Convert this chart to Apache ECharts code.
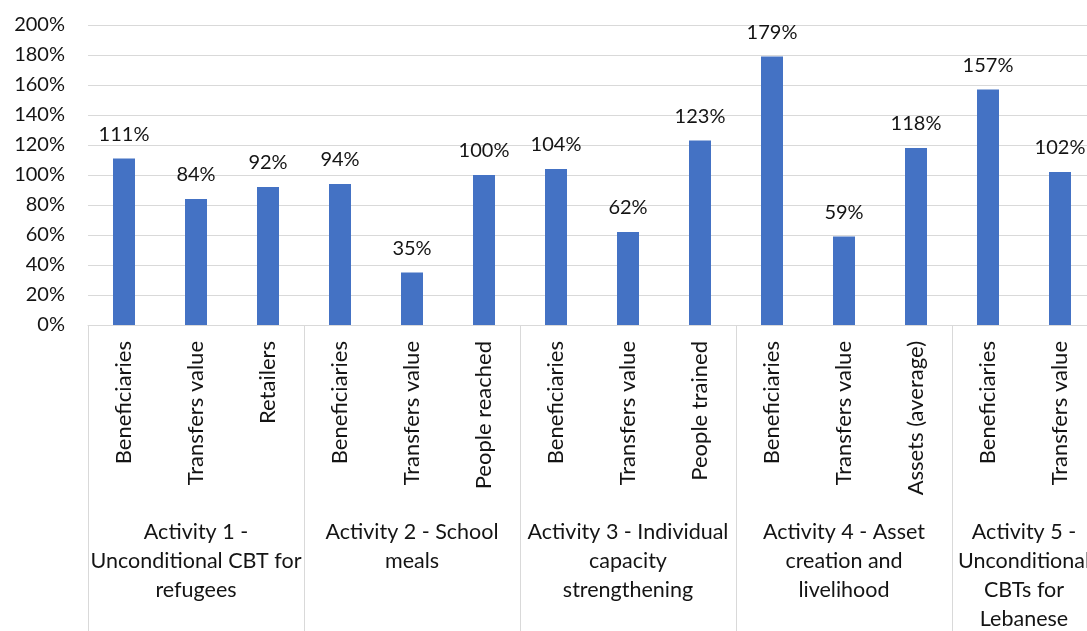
<!DOCTYPE html>
<html>
<head>
<meta charset="utf-8">
<script src="https://cdn.jsdelivr.net/npm/echarts@6/dist/echarts.min.js"></script>
<style>
  html, body { margin: 0; padding: 0; background: #ffffff; }
  #chart { width: 1087px; height: 631px; }
</style>
</head>
<body>
<div id="chart"></div>
<script>
// Indicator names, one per bar
const measures = [
  'Beneficiaries', 'Transfers value', 'Retailers',
  'Beneficiaries', 'Transfers value', 'People reached',
  'Beneficiaries', 'Transfers value', 'People trained',
  'Beneficiaries', 'Transfers value', 'Assets (average)',
  'Beneficiaries', 'Transfers value'
];

// Achievement rate against plan (%)
const achievement = [111, 84, 92, 94, 35, 100, 104, 62, 123, 179, 59, 118, 157, 102];

// Activity groups and how many indicators each covers
const activities = [
  'Activity 1 -\nUnconditional CBT for\nrefugees',
  'Activity 2 - School\nmeals',
  'Activity 3 - Individual\ncapacity\nstrengthening',
  'Activity 4 - Asset\ncreation and\nlivelihood',
  'Activity 5 -\nUnconditional\nCBTs for\nLebanese'
];
const activitySizes = [3, 3, 3, 3, 2];

// Value axis range
const yMin = 0, yMax = 200, yStep = 20;

// Group axis: half-category points (boundaryGap off) so labels can sit at
// group centres and ticks at group boundaries.
const halfPoints = measures.length * 2 + 1;
const groupAxisData = new Array(halfPoints).fill('');
const groupTickIdx = new Set();
let start = 0;
activities.forEach((name, g) => {
  const n = activitySizes[g];
  groupTickIdx.add(start * 2);
  groupAxisData[start * 2 + n] = name;
  start += n;
});
groupTickIdx.add(start * 2);

const FONT = 'Lato, "Noto Sans", sans-serif';
const TXT = '#141414';
const GRID = '#d9d9d9';

const chart = echarts.init(document.getElementById('chart'), null, { renderer: 'canvas' });

chart.setOption({
  animation: false,
  backgroundColor: '#ffffff',
  textStyle: { fontFamily: FONT },
  grid: {
    left: 88, top: 25, right: -9, bottom: 306,
    containLabel: false,
    outerBoundsMode: 'none'
  },
  xAxis: [
    {
      type: 'category',
      position: 'bottom',
      data: measures,
      axisLine: { show: true, lineStyle: { color: GRID, width: 1 } },
      axisTick: { show: false },
      splitLine: { show: false },
      axisLabel: {
        interval: 0,
        rotate: 90,
        margin: 16,
        color: TXT,
        fontSize: 22,
        fontFamily: FONT
      }
    },
    {
      type: 'category',
      position: 'bottom',
      boundaryGap: false,
      data: groupAxisData,
      axisLine: { show: false },
      axisTick: {
        show: true,
        length: 320,
        interval: (idx) => groupTickIdx.has(idx),
        lineStyle: { color: GRID, width: 1 }
      },
      splitLine: { show: false },
      axisLabel: {
        interval: (idx) => groupAxisData[idx] !== '',
        margin: 193,
        color: TXT,
        fontSize: 21.5,
        lineHeight: 29,
        align: 'center',
        verticalAlign: 'top',
        fontFamily: FONT
      }
    }
  ],
  yAxis: {
    type: 'value',
    min: yMin,
    max: yMax,
    interval: yStep,
    axisLine: { show: false },
    axisTick: { show: false },
    splitLine: { show: true, lineStyle: { color: GRID, width: 1 } },
    axisLabel: {
      margin: 23,
      color: TXT,
      fontSize: 20,
      fontFamily: FONT,
      formatter: '{value}%'
    }
  },
  series: [
    {
      type: 'bar',
      xAxisIndex: 0,
      data: achievement,
      barWidth: 22,
      itemStyle: { color: '#4472c4' },
      label: {
        show: true,
        position: 'top',
        distance: 14,
        color: TXT,
        fontSize: 20,
        fontFamily: FONT,
        formatter: (p) => p.value + '%'
      }
    }
  ]
});
</script>
</body>
</html>
